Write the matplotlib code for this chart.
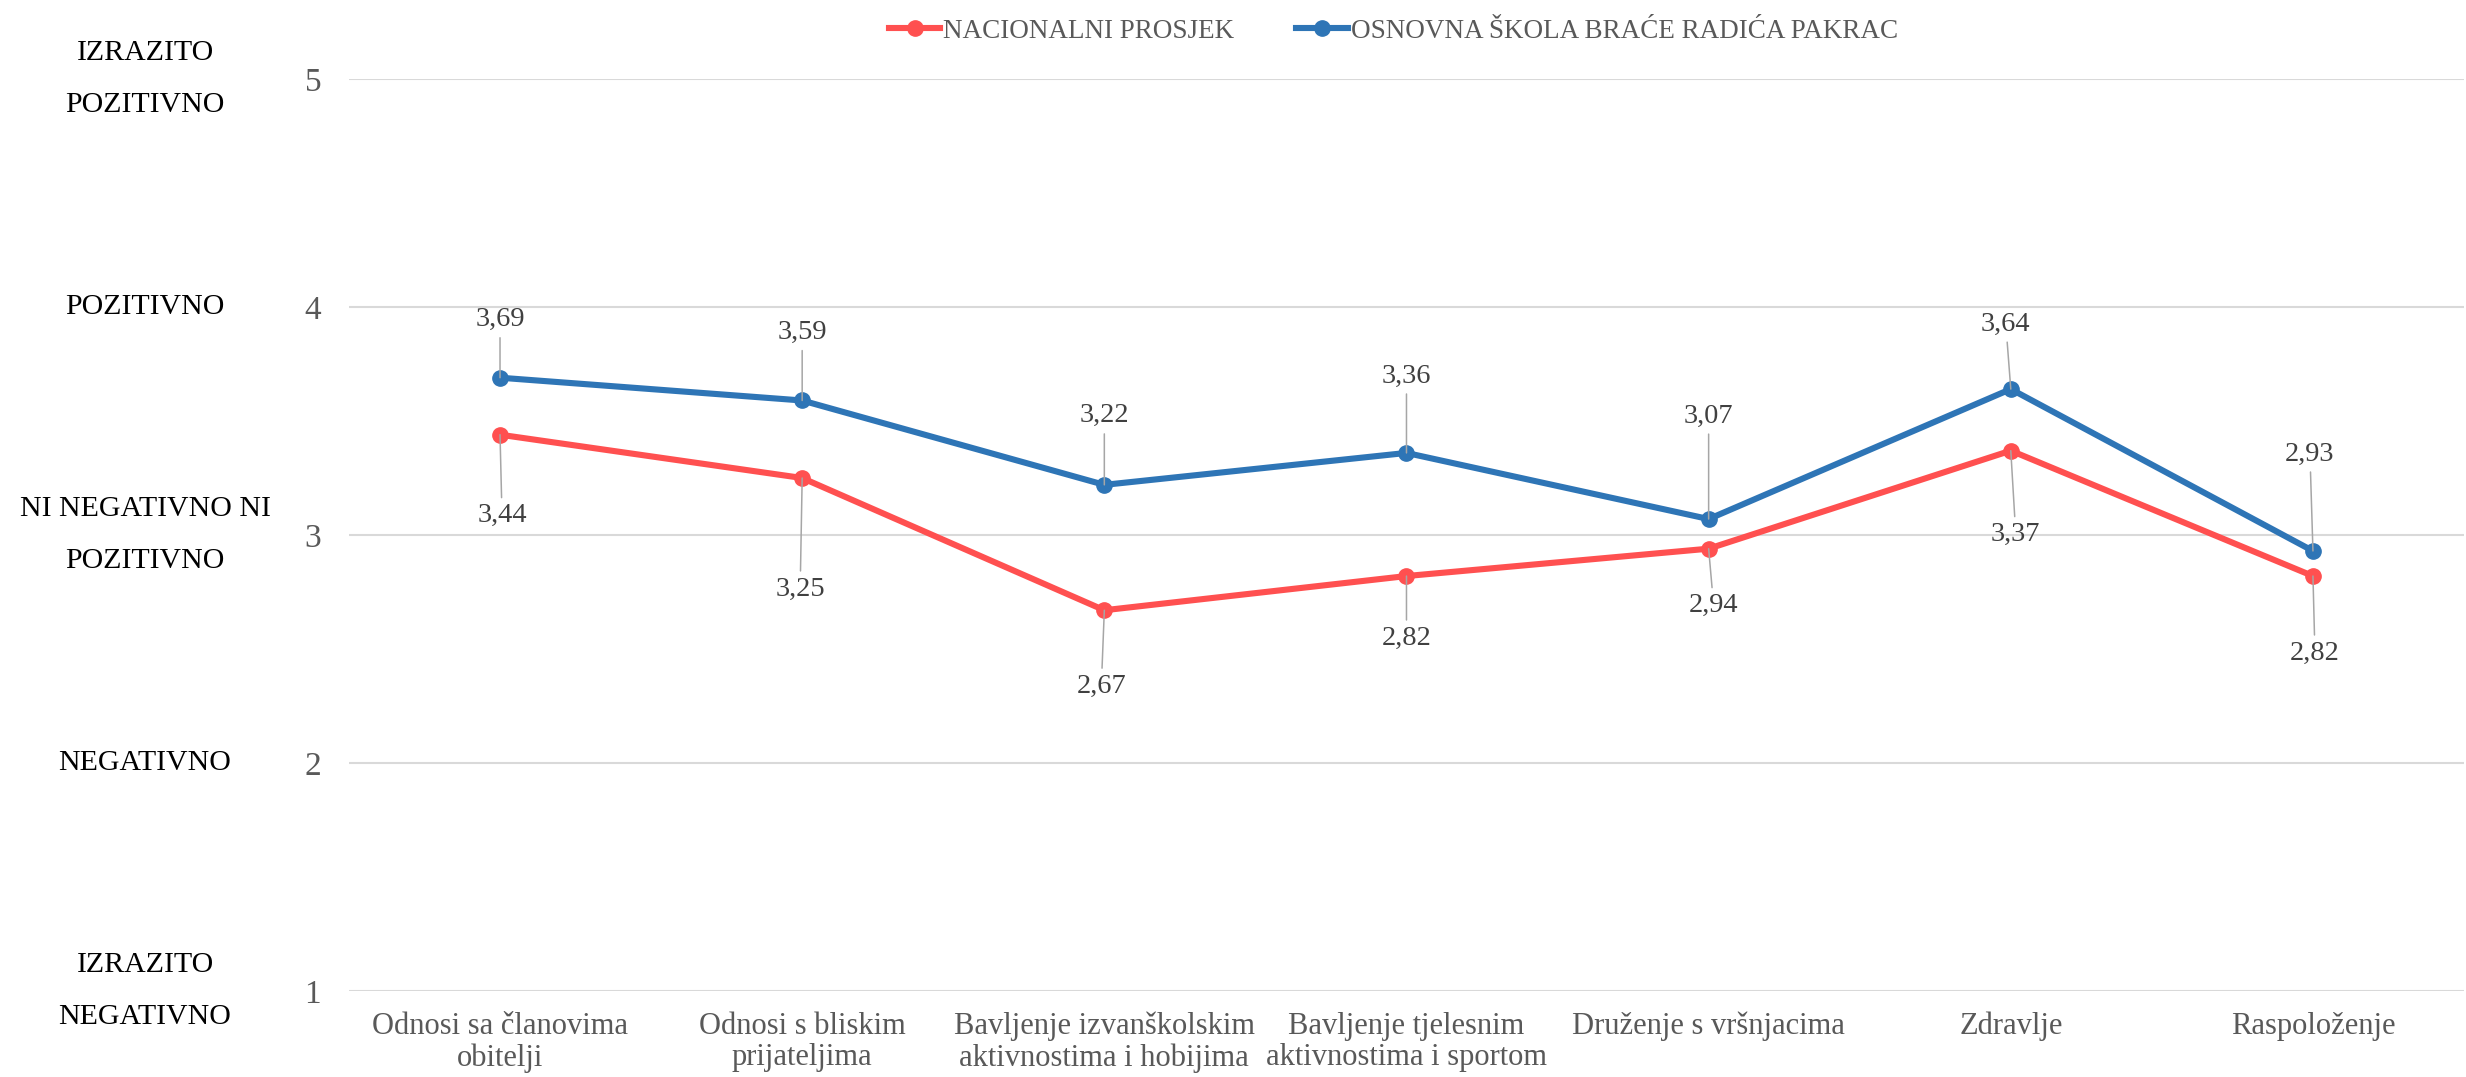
import matplotlib
matplotlib.use("Agg")
import matplotlib.pyplot as plt
from matplotlib.transforms import blended_transform_factory

categories = [
    "Odnosi sa članovima\nobitelji",
    "Odnosi s bliskim\nprijateljima",
    "Bavljenje izvanškolskim\naktivnostima i hobijima",
    "Bavljenje tjelesnim\naktivnostima i sportom",
    "Druženje s vršnjacima",
    "Zdravlje",
    "Raspoloženje",
]
nacionalni = [3.44, 3.25, 2.67, 2.82, 2.94, 3.37, 2.82]
skola = [3.69, 3.59, 3.22, 3.36, 3.07, 3.64, 2.93]
series_names = ["NACIONALNI PROSJEK", "OSNOVNA ŠKOLA BRAĆE RADIĆA PAKRAC"]

scale_ticks = [1, 2, 3, 4, 5]
scale_names = ["IZRAZITO\nNEGATIVNO", "NEGATIVNO", "NI NEGATIVNO NI\nPOZITIVNO",
               "POZITIVNO", "IZRAZITO\nPOZITIVNO"]

# label offsets (pixels) from each point, as placed in the original
off_skola = [(0, 58), (0, 68), (0, 69), (0, 77), (0, 103), (-5, 65), (-3, 97)]
off_nac = [(2, -81), (-2, -111), (-3, -76), (0, -62), (5, -57), (5, -84), (2, -77)]

RED = "#FF5050"
BLUE = "#2E75B6"
FONT = "Liberation Serif"
plt.rcParams["font.family"] = [FONT, "DejaVu Serif"]

fig = plt.figure(figsize=(24.66, 10.77), dpi=100)
ax = fig.add_axes([0.1415, 0.0799, 0.8577, 0.8467])

x = list(range(len(categories)))
ax.plot(x, nacionalni, color=RED, lw=4.4, marker="o", ms=11,
        label=series_names[0], zorder=3)
ax.plot(x, skola, color=BLUE, lw=4.4, marker="o", ms=11,
        label=series_names[1], zorder=3)

for vals, offs in ((skola, off_skola), (nacionalni, off_nac)):
    for xi, v, (dx, dy) in zip(x, vals, offs):
        ax.annotate(f"{v:.2f}".replace(".", ","), xy=(xi, v),
                    xytext=(dx, dy), textcoords="offset pixels",
                    ha="center", va="center", fontsize=20.5, color="#404040",
                    arrowprops=dict(arrowstyle="-", color="#A6A6A6", lw=1.1,
                                    shrinkA=2, shrinkB=0),
                    zorder=4)

ax.set_xlim(-0.5, len(categories) - 0.5)
ax.set_ylim(1, 5)
ax.set_yticks(scale_ticks)
ax.set_xticks(x)
ax.set_xticklabels(categories, fontsize=22, color="#595959", linespacing=1.12)
ax.tick_params(axis="y", length=0, pad=20, labelsize=24, labelcolor="#595959")
ax.tick_params(axis="x", length=0, pad=15)
ax.grid(True, axis="y", color="#D9D9D9", lw=1.5)
ax.set_axisbelow(True)
for s in ax.spines.values():
    s.set_visible(False)

tr = blended_transform_factory(fig.transFigure, ax.transData)
for yv, name in zip(scale_ticks, scale_names):
    ax.text(0.0588, yv, name, transform=tr, ha="center", va="center",
            fontsize=21.5, color="black", linespacing=2.3, clip_on=False)

leg = fig.legend(loc="upper center", bbox_to_anchor=(0.565, 1.0), ncol=2,
                 frameon=False, fontsize=19.5, handlelength=1.9,
                 handletextpad=0.1, columnspacing=2.3, borderaxespad=0.3)
for t in leg.get_texts():
    t.set_color("#595959")

fig.savefig("out.png", dpi=100)
plt.close(fig)
